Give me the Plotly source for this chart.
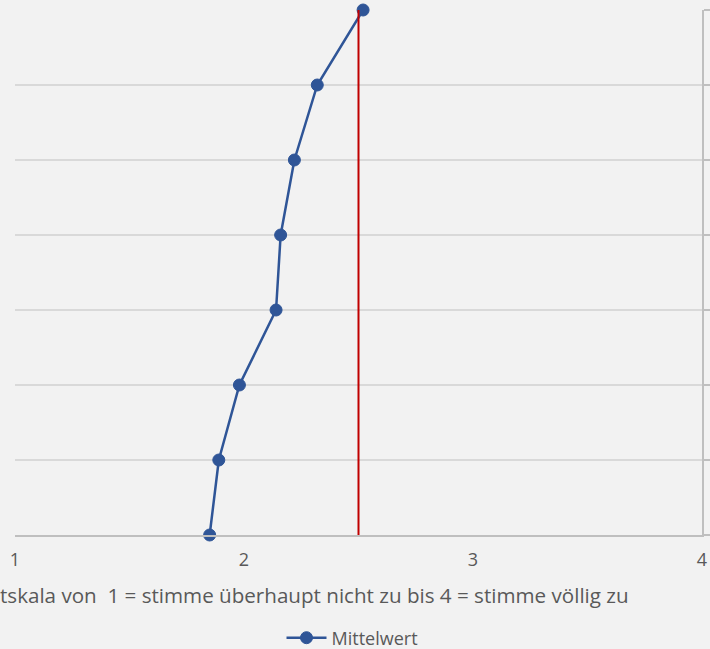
import plotly.graph_objects as go

# Survey items (bottom to top) and their mean scores on the 1-4 scale
items = ["Aussage 1", "Aussage 2", "Aussage 3", "Aussage 4",
         "Aussage 5", "Aussage 6", "Aussage 7", "Aussage 8"]
mean_scores = [1.85, 1.89, 1.98, 2.14, 2.16, 2.22, 2.32, 2.52]
scale_midpoint = 2.5
x_ticks = [1, 2, 3, 4]
axis_title = "tskala von\u00a0 1 = stimme überhaupt nicht zu bis 4 = stimme völlig zu"

BG = "#F2F2F2"
BLUE = "#2F5597"
RED = "#C00000"
GRID = "#D9D9D9"
AXIS = "#BFBFBF"
TEXT = "#595959"
FONT = "Open Sans"

fig = go.Figure()

fig.add_trace(go.Scatter(
    x=mean_scores, y=items, mode="lines+markers", name="Mittelwert",
    line=dict(color=BLUE, width=2.5),
    marker=dict(color=BLUE, size=12, line=dict(color=BLUE, width=1)),
    cliponaxis=False,
))

# Vertical reference line at the scale midpoint
fig.add_trace(go.Scatter(
    x=[scale_midpoint, scale_midpoint], y=[items[0], items[-1]],
    mode="lines", line=dict(color=RED, width=2), showlegend=False,
    hoverinfo="skip",
))

fig.add_annotation(
    text=axis_title, xref="paper", yref="paper",
    x=-17 / 687, y=-(595 - 535) / 525,
    xanchor="left", yanchor="middle", showarrow=False,
    font=dict(family=FONT, size=20.6, color=TEXT),
)

fig.update_layout(
    width=710, height=649,
    margin=dict(l=15, r=8, t=10, b=114, autoexpand=False),
    paper_bgcolor=BG, plot_bgcolor=BG,
    font=dict(family=FONT, size=18, color=TEXT),
    showlegend=True,
    legend=dict(orientation="h", x=(352.5 - 15) / 687, y=-(638 - 535) / 525,
                xanchor="center", yanchor="middle", itemwidth=40,
                font=dict(family=FONT, size=18, color=TEXT), bgcolor="rgba(0,0,0,0)"),
    xaxis=dict(range=[1, 4], tickvals=x_ticks, ticktext=[str(v) for v in x_ticks],
               showgrid=False, zeroline=False, showline=True, linecolor=AXIS, linewidth=1.5,
               ticks="outside", ticklen=8, tickcolor="rgba(0,0,0,0)",
               tickfont=dict(size=18, color=TEXT)),
    yaxis=dict(type="category", categoryorder="array", categoryarray=items,
               range=[0, 7], side="right", showticklabels=False,
               showgrid=True, gridcolor=GRID, gridwidth=1.5,
               showline=True, linecolor=AXIS, linewidth=1.5,
               ticks="outside", ticklen=6, tickcolor=AXIS, tickwidth=1.5),
)

fig.write_html("out.html")
